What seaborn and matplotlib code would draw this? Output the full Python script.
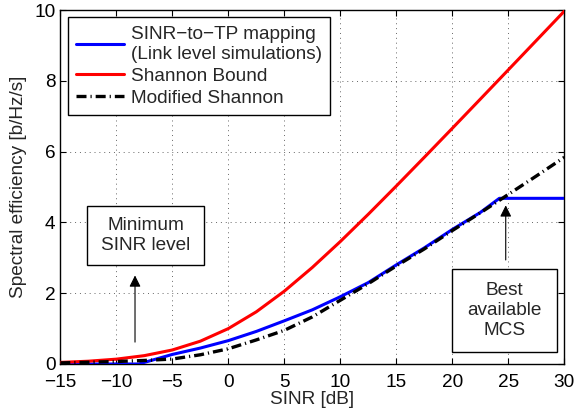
import matplotlib
matplotlib.use("Agg")
import matplotlib.pyplot as plt
from matplotlib.patches import Rectangle
import seaborn as sns
import pandas as pd

# ---- data ----
sinr_shannon = [-15, -12.5, -10, -7.5, -5, -2.5, 0, 2.5, 5, 7.5, 10, 12.5, 15,
                17.5, 20, 22.5, 25, 27.5, 30]
se_shannon = [0.045, 0.079, 0.137, 0.236, 0.396, 0.644, 1.0, 1.474, 2.057, 2.727,
              3.459, 4.231, 5.028, 5.839, 6.658, 7.482, 8.309, 9.138, 9.967]

sinr_llsim = [-15, -10, -8, -7, -6, -5, -2.5, 0, 2.5, 5, 7.5, 10, 12.5, 15,
              17.5, 20, 22.5, 24.2, 30]
se_llsim = [0.0, 0.0, 0.0, 0.09, 0.18, 0.27, 0.45, 0.66, 0.92, 1.22, 1.53, 1.90,
            2.30, 2.80, 3.28, 3.80, 4.28, 4.68, 4.68]

sinr_mod = [-15, -12.5, -10, -7.5, -5, -2.5, 0, 2.5, 5, 7.5, 10, 12.5, 15,
            17.5, 20, 22.5, 25, 27.5, 30]
se_mod = [0.03, 0.05, 0.07, 0.10, 0.14, 0.26, 0.43, 0.68, 0.95, 1.33, 1.80, 2.27,
          2.77, 3.25, 3.77, 4.27, 4.79, 5.31, 5.84]

labels = ["SINR\u2212to\u2212TP mapping\n(Link level simulations)",
          "Shannon Bound", "Modified Shannon"]
x_ticks = [-15, -10, -5, 0, 5, 10, 15, 20, 25, 30]
y_ticks = [0, 2, 4, 6, 8, 10]

sns.set_theme(style="ticks")
plt.rcParams["font.family"] = ["Liberation Sans", "DejaVu Sans"]
plt.rcParams["axes.unicode_minus"] = True

FS = 13.7
fig = plt.figure(figsize=(5.76, 4.15), dpi=100)
ax = fig.add_axes([0.1047, 0.1229, 0.875, 0.853])

df_ll = pd.DataFrame({"x": sinr_llsim, "y": se_llsim})
df_sh = pd.DataFrame({"x": sinr_shannon, "y": se_shannon})
df_md = pd.DataFrame({"x": sinr_mod, "y": se_mod})

sns.lineplot(data=df_ll, x="x", y="y", ax=ax, color="#0000ff", lw=2.2,
             label=labels[0], zorder=3)
sns.lineplot(data=df_sh, x="x", y="y", ax=ax, color="#ff0000", lw=2.2,
             label=labels[1], zorder=3)
sns.lineplot(data=df_md, x="x", y="y", ax=ax, color="black", lw=2.4,
             linestyle=(0, (3.0, 1.2, 0.35, 1.2)), label=labels[2], zorder=4)

ax.set_xlim(-15, 30)
ax.set_ylim(0, 10)
ax.set_xticks(x_ticks)
ax.set_yticks(y_ticks)
ax.set_xticklabels([str(t).replace("-", "\u2212") for t in x_ticks], fontsize=FS)
ax.set_yticklabels([str(t) for t in y_ticks], fontsize=FS)
ax.tick_params(direction="in", top=True, right=True, length=4, width=0.8,
               colors="black")
ax.tick_params(axis="x", pad=7.5)
ax.tick_params(axis="y", pad=3.5)
ax.set_xlabel("SINR [dB]", fontsize=FS, labelpad=0)
ax.set_ylabel("Spectral efficiency [b/Hz/s]", fontsize=FS, labelpad=5)
ax.grid(True, linestyle=(0, (1, 4)), color="black", lw=0.7, alpha=0.6)
for s in ax.spines.values():
    s.set_visible(True)
    s.set_color("black")
    s.set_linewidth(1.0)

leg = ax.legend(loc="upper left", bbox_to_anchor=(0.0147, 0.979),
                borderaxespad=0, fontsize=FS, handlelength=2.5,
                handletextpad=0.35, labelspacing=0.25, borderpad=0.45,
                fancybox=False, framealpha=1, edgecolor="black")
leg.get_frame().set_linewidth(1.0)

# annotation: minimum SINR level
ax.annotate("", xy=(-8.33, 2.58), xytext=(-8.33, 0.54),
            arrowprops=dict(arrowstyle="-|>", color="black", lw=0.8,
                            mutation_scale=17))
ax.add_patch(Rectangle((-12.59, 2.80), 10.42, 1.66, fc="white", ec="black",
                       lw=1.0, zorder=5))
ax.text(-7.38, 3.63, "Minimum\nSINR level", ha="center", va="center",
        fontsize=FS, linespacing=1.2, zorder=6)

# annotation: best available MCS
ax.annotate("", xy=(24.77, 4.56), xytext=(24.77, 2.86),
            arrowprops=dict(arrowstyle="-|>", color="black", lw=0.8,
                            mutation_scale=17))
ax.add_patch(Rectangle((19.95, 0.35), 9.43, 2.33, fc="white", ec="black",
                       lw=1.0, zorder=5))
ax.text(24.66, 1.51, "Best\navailable\nMCS", ha="center", va="center",
        fontsize=FS, linespacing=1.2, zorder=6)

fig.savefig("out.png", dpi=100)
